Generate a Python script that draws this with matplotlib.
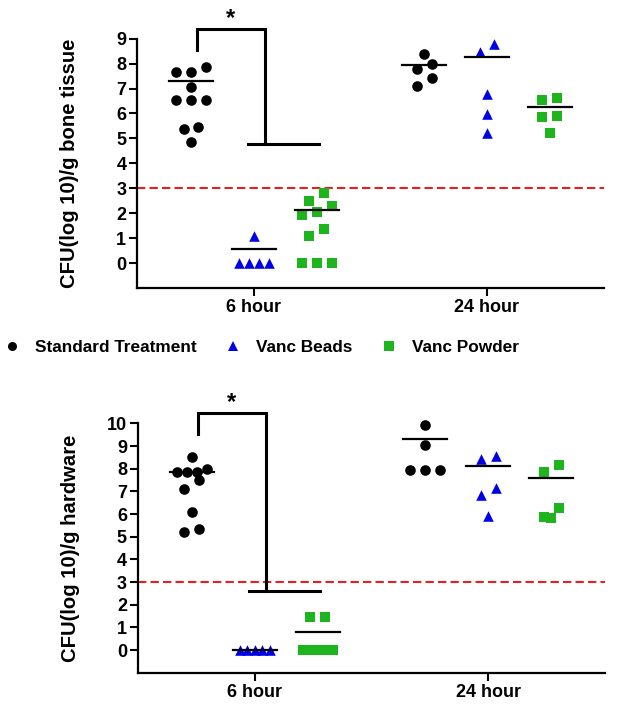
import numpy as np
import matplotlib
matplotlib.use('Agg')
import matplotlib.pyplot as plt
from matplotlib.lines import Line2D

plt.rcParams['font.family'] = ['Liberation Sans', 'DejaVu Sans']
plt.rcParams['font.weight'] = 'bold'
plt.rcParams['axes.labelweight'] = 'bold'

timepoints = ['6 hour', '24 hour']
groups = ['Standard Treatment', 'Vanc Beads', 'Vanc Powder']
colores = ['black', '#0000e6', '#1db41d']
marcadores = ['o', '^', 's']

# CFU(log10)/g bone tissue
bone_std_6h = [7.88, 7.68, 7.68, 7.08, 6.55, 6.55, 6.55, 5.47, 5.38, 4.87]
bone_beads_6h = [1.1, 0, 0, 0, 0]
bone_powder_6h = [2.82, 2.5, 2.3, 2.06, 1.93, 1.37, 1.08, 0, 0, 0]
bone_std_24h = [8.38, 7.98, 7.78, 7.44, 7.11]
bone_beads_24h = [8.78, 8.45, 6.77, 5.97, 5.23]
bone_powder_24h = [6.61, 6.55, 5.9, 5.84, 5.21]
bone_lineas = [[7.3, 0.56, 2.13], [7.93, 8.26, 6.25]]

# CFU(log10)/g hardware
hw_std_6h = [8.53, 7.98, 7.87, 7.87, 7.85, 7.5, 7.1, 6.1, 5.32, 5.22]
hw_beads_6h = [0, 0, 0, 0, 0]
hw_powder_6h = [1.47, 1.45, 0, 0, 0, 0, 0, 0, 0, 0]
hw_std_24h = [9.95, 9.07, 7.94, 7.94, 7.94]
hw_beads_24h = [8.56, 8.45, 7.13, 6.84, 5.93]
hw_powder_24h = [8.16, 7.87, 6.28, 5.88, 5.84]
hw_lineas = [[7.84, 0.0, 0.81], [9.3, 8.13, 7.6]]

limite = 3  # limite de deteccion


def repartir(valores, umbral, col=0.064):
    # acomodar puntos parecidos uno al lado del otro (como GraphPad)
    valores = np.asarray(valores, float)
    orden = np.argsort(-valores, kind='stable')
    offs = np.zeros(len(valores))
    i = 0
    while i < len(orden):
        j = i
        while j + 1 < len(orden) and valores[orden[i]] - valores[orden[j + 1]] < umbral:
            j += 1
        n = j - i + 1
        paso = col if n <= 3 else 2 * col / (n - 1)
        for k in range(n):
            offs[orden[i + k]] = ((n - 1) / 2 - k) * paso
        i = j + 1
    return offs


def Graficar(ax, datos, lineas, ylim, ylabel, corchete):
    desplaz = [-0.27, 0, 0.27]
    umbral = 0.04 * (ylim[1] - ylim[0])
    for t in range(len(timepoints)):
        for g in range(len(groups)):
            vals = datos[t][g]
            x = t + desplaz[g] + repartir(vals, umbral)
            ax.scatter(x, vals, s=58, marker=marcadores[g], c=colores[g],
                       linewidths=0, zorder=3, clip_on=False)
            ax.plot([t + desplaz[g] - 0.094, t + desplaz[g] + 0.094],
                    [lineas[t][g]] * 2, color='black', lw=1.6, zorder=4)

    ax.axhline(limite, color='#e62020', lw=1.5, dashes=(4, 2), zorder=2)

    # corchete de significancia
    y0, y1, y2 = corchete
    ax.plot([-0.245, -0.245, 0.048, 0.048], [y0, y1, y1, y2],
            color='black', lw=2.2, clip_on=False, solid_joinstyle='miter')
    ax.plot([-0.025, 0.28], [y2, y2], color='black', lw=2.2, clip_on=False)
    ax.text(-0.10, y1 + 0.4 * (ylim[1] - ylim[0]) / 10, '*', ha='center',
            va='center', fontsize=17, clip_on=False)

    ax.set_xlim(-0.5, 1.5)
    ax.set_ylim(*ylim)
    ax.set_xticks(range(len(timepoints)))
    ax.set_xticklabels(timepoints, fontsize=13)
    ax.set_yticks(range(0, int(ylim[1]) + 1))
    ax.tick_params(axis='both', width=1.5, length=6, labelsize=13, pad=2)
    for lado in ['top', 'right']:
        ax.spines[lado].set_visible(False)
    for lado in ['left', 'bottom']:
        ax.spines[lado].set_linewidth(1.6)
    ax.set_ylabel(ylabel, fontsize=14.6, fontweight='bold')
    ax.yaxis.set_label_coords(-0.125, 0.5)


fig = plt.figure(figsize=(6.19, 7.04), dpi=100)
ax1 = fig.add_axes([0.222, 0.591, 0.753, 0.354])
ax2 = fig.add_axes([0.223, 0.0445, 0.754, 0.354])

Graficar(ax1,
         [[bone_std_6h, bone_beads_6h, bone_powder_6h],
          [bone_std_24h, bone_beads_24h, bone_powder_24h]],
         bone_lineas, (-1, 9), 'CFU(log 10)/g bone tissue', (8.55, 9.4, 4.78))
Graficar(ax2,
         [[hw_std_6h, hw_beads_6h, hw_powder_6h],
          [hw_std_24h, hw_beads_24h, hw_powder_24h]],
         hw_lineas, (-1, 10), 'CFU(log 10)/g hardware', (9.55, 10.47, 2.6))

manijas = [Line2D([], [], marker=marcadores[g], color=colores[g], linestyle='none',
                  markersize=6.5, markeredgewidth=0) for g in range(len(groups))]
fig.legend(manijas, groups, loc='center left', bbox_to_anchor=(0.0055, 0.506),
           ncol=3, frameon=False, fontsize=12.4, handlelength=1.0,
           handletextpad=0.84, columnspacing=1.6, borderpad=0, borderaxespad=0)

fig.savefig('out.png', dpi=100)
